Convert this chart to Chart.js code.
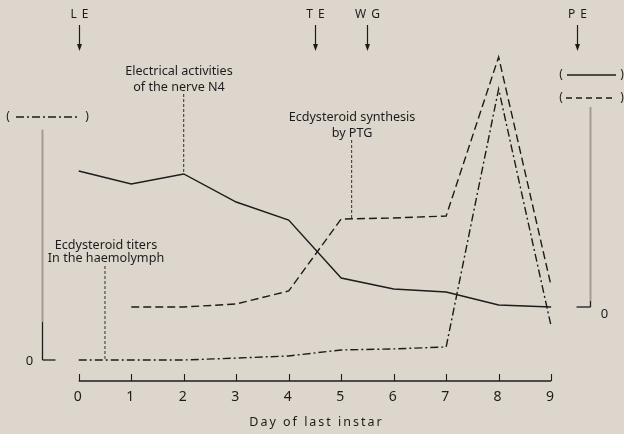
<!DOCTYPE html>
<html>
<head>
<meta charset="utf-8">
<script src="https://cdn.jsdelivr.net/npm/chart.js@4.4.1/dist/chart.umd.min.js"></script>
<style>
  html, body { margin: 0; padding: 0; background: #ddd6cc; }
  #wrap { width: 624px; height: 434px; position: relative; }
</style>
</head>
<body>
<div id="wrap"><canvas id="chart"></canvas></div>
<script>
// Day of last instar
const days = [0, 1, 2, 3, 4, 5, 6, 7, 8, 9];
// Electrical activities of the nerve N4 (right scale, relative units)
const nerveActivity = [54.4, 49.2, 53.2, 42, 34.8, 11.6, 7.2, 6, 0.8, 0];
// Ecdysteroid synthesis by PTG (right scale), nothing on day 0
const ptgSynthesis = [null, 0, 0, 1.2, 6.4, 35.2, 35.6, 36.4, 100, 8.4];
// Ecdysteroid titers in the haemolymph (left scale)
const haemolymphTiters = [0, 0, 0, 0.7, 1.5, 3.7, 4.1, 4.8, 100, 12.5];

// events marked above the chart
const eventLabels = ['L E', 'T E', 'W G', 'P E'];
const eventDays = [0, 4.5, 5.5, 9.5];

const INK = '#1c1c1c';
const FONT = "'Noto Sans', sans-serif";
const DASH = [8, 4];
const DASH_DOT = [8, 3, 2, 3];

// text notes with a leader line down to their curve
const notes = [
    { lines: ['Electrical activities', 'of the nerve N4'], cx: 179, y: 71, gap: 16, day: 2, series: nerveActivity, axis: 'yR', top: 94 },
    { lines: ['Ecdysteroid synthesis', 'by PTG'], cx: 352, y: 117, gap: 16, day: 5.2, series: ptgSynthesis, axis: 'yR', top: 140 },
    { lines: ['Ecdysteroid titers', 'In the haemolymph'], cx: 106, y: 245, gap: 13, day: 0.5, series: haemolymphTiters, axis: 'yL', top: 266 }
];

function toPoints(series) {
    return days.map((d, i) => ({ x: d, y: series[i] }));
}

function valueAt(series, day) {
    const i = Math.floor(day);
    const a = series[i], b = series[Math.min(i + 1, series.length - 1)];
    return a + (b - a) * (day - i);
}

function dashedLine(ctx, x1, y1, x2, y2, dash, width) {
    ctx.save();
    ctx.strokeStyle = INK;
    ctx.lineWidth = width;
    ctx.setLineDash(dash);
    ctx.beginPath();
    ctx.moveTo(x1, y1);
    ctx.lineTo(x2, y2);
    ctx.stroke();
    ctx.restore();
}

const decorPlugin = {
    id: 'decor',
    beforeDraw(chart) {
        // spaced lettering for the x axis
        chart.ctx.letterSpacing = '2px';
    },
    beforeDatasetsDraw(chart) {
        chart.ctx.letterSpacing = '0px';
    },
    afterDraw(chart) {
        const ctx = chart.ctx;
        const xs = chart.scales.x, yR = chart.scales.yR, yL = chart.scales.yL;
        const area = chart.chartArea;
        ctx.save();

        // x axis line with upward ticks
        const base = area.bottom;
        dashedLine(ctx, xs.getPixelForValue(0), base, xs.getPixelForValue(9), base, [], 1.3);
        days.forEach(d => {
            const px = Math.round(xs.getPixelForValue(d)) + 0.5;
            dashedLine(ctx, px, base, px, base - 7, [], 1.1);
        });

        // left axis (titers)
        const lx = area.left + 0.5;
        const lz = yL.getPixelForValue(0);
        ctx.strokeStyle = '#a49d95';
        ctx.lineWidth = 2;
        ctx.beginPath(); ctx.moveTo(lx, yL.getPixelForValue(85)); ctx.lineTo(lx, lz - 38); ctx.stroke();
        dashedLine(ctx, lx, lz - 38, lx, lz, [], 1.3);
        dashedLine(ctx, lx, lz, lx + 13, lz, [], 1.3);

        // right axis (nerve activity and PTG synthesis)
        const rx = area.right - 0.5;
        const rz = yR.getPixelForValue(0);
        ctx.strokeStyle = '#a49d95';
        ctx.lineWidth = 2;
        ctx.beginPath(); ctx.moveTo(rx, yR.getPixelForValue(80)); ctx.lineTo(rx, rz - 6); ctx.stroke();
        dashedLine(ctx, rx, rz - 6, rx, rz, [], 1.3);
        dashedLine(ctx, rx - 14, rz, rx, rz, [], 1.3);

        ctx.fillStyle = INK;
        ctx.font = '13px ' + FONT;
        ctx.textAlign = 'center';
        ctx.textBaseline = 'middle';
        ctx.fillText('0', lx - 13, lz + 1);
        ctx.fillText('0', rx + 14, rz + 7);

        // legend keys beside the axes
        ctx.font = '12px ' + FONT;
        ctx.fillText('(', 8, 117); ctx.fillText(')', 87, 117);
        dashedLine(ctx, 16, 117, 79, 117, DASH_DOT, 1.3);
        ctx.fillText('(', 561, 75); ctx.fillText(')', 622, 75);
        dashedLine(ctx, 567, 75, 616, 75, [], 1.3);
        ctx.fillText('(', 561, 98); ctx.fillText(')', 622, 98);
        dashedLine(ctx, 566, 98, 616, 98, [6, 4], 1.3);

        // event arrows
        ctx.letterSpacing = '1px';
        eventLabels.forEach((lab, i) => {
            const ex = Math.round(xs.getPixelForValue(eventDays[i])) + 0.5;
            ctx.fillStyle = INK;
            ctx.font = '12px ' + FONT;
            ctx.fillText(lab, ex + 0.5, 15);
            dashedLine(ctx, ex, 25, ex, 48, [], 1.2);
            ctx.beginPath();
            ctx.moveTo(ex - 2.5, 44); ctx.lineTo(ex + 2.5, 44); ctx.lineTo(ex, 51); ctx.closePath();
            ctx.fill();
        });
        ctx.letterSpacing = '0px';

        // notes with leader lines
        notes.forEach(n => {
            ctx.fillStyle = INK;
            ctx.font = '12.6px ' + FONT;
            n.lines.forEach((t, k) => ctx.fillText(t, n.cx, n.y + k * n.gap));
            const px = xs.getPixelForValue(n.day);
            const py = chart.scales[n.axis].getPixelForValue(valueAt(n.series, n.day));
            dashedLine(ctx, px, n.top, px, py, [3, 2], 0.9);
        });

        ctx.restore();
    }
};

new Chart(document.getElementById('chart'), {
    type: 'line',
    data: {
        datasets: [
            {
                label: 'Electrical activities of the nerve N4',
                data: toPoints(nerveActivity),
                yAxisID: 'yR',
                borderColor: INK,
                borderWidth: 1.4
            },
            {
                label: 'Ecdysteroid synthesis by PTG',
                data: toPoints(ptgSynthesis),
                yAxisID: 'yR',
                borderColor: INK,
                borderWidth: 1.4,
                borderDash: DASH
            },
            {
                label: 'Ecdysteroid titers in the haemolymph',
                data: toPoints(haemolymphTiters),
                yAxisID: 'yL',
                borderColor: INK,
                borderWidth: 1.4,
                borderDash: DASH_DOT
            }
        ]
    },
    options: {
        responsive: true,
        maintainAspectRatio: false,
        animation: false,
        elements: { point: { radius: 0 }, line: { tension: 0 } },
        layout: { padding: { left: 42, right: 33, top: 40, bottom: 0 } },
        plugins: { legend: { display: false }, tooltip: { enabled: false } },
        scales: {
            x: {
                type: 'linear',
                min: -0.7,
                max: 9.76,
                afterBuildTicks: s => { s.ticks = days.map(v => ({ value: v })); },
                afterFit: s => { s.height = 53; },
                grid: { display: false, drawTicks: false },
                border: { display: false },
                ticks: { color: INK, font: { family: FONT, size: 14 }, padding: 8, maxRotation: 0, autoSkip: false, callback: v => String(v) },
                title: { display: true, text: 'Day of last instar', color: INK, font: { family: FONT, size: 12.5 }, padding: { top: 0, bottom: 4 } }
            },
            yR: { display: false, min: -29.6, max: 106.8 },
            yL: { display: false, min: -7.75, max: 118.08 }
        }
    },
    plugins: [decorPlugin]
});
</script>
</body>
</html>
